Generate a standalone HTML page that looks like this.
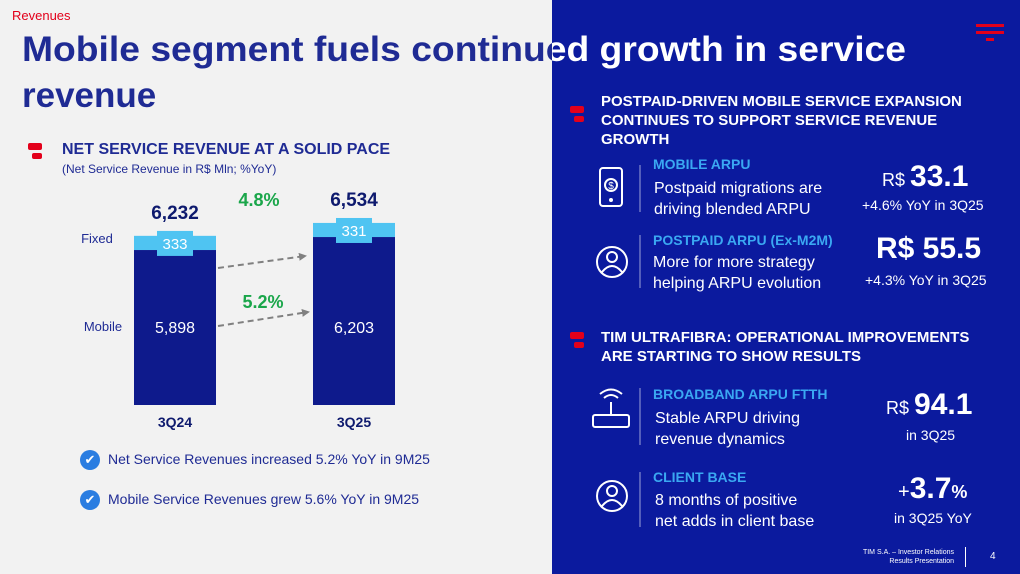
<!DOCTYPE html>
<html><head><meta charset="utf-8">
<style>
*{margin:0;padding:0;box-sizing:border-box}
body{width:1020px;height:574px;overflow:hidden;font-family:"Liberation Sans",sans-serif;background:#f2f2f2;position:relative}
.abs{position:absolute}
.right{left:552px;top:0;width:468px;height:574px;background:#0b1a9e}
.w{color:#fff}
.hd{font-weight:bold;font-size:15px;line-height:19px;color:#fff}
.lbl{font-weight:bold;font-size:14px;color:#3aa8f2}
.txt{font-size:16px;line-height:21px;color:#fff}
.logo{width:14px}
.logo i{display:block;background:#e3001b;border-radius:2px}
</style></head><body>
<div class="abs" style="left:12px;top:8px;font-size:13px;color:#e3001b">Revenues</div>
<div class="abs right"></div>

<svg class="abs" style="left:0;top:0" width="1020" height="120">
<defs><clipPath id="cl"><rect x="0" y="0" width="552" height="120"/></clipPath><clipPath id="cr"><rect x="552" y="0" width="468" height="120"/></clipPath></defs>
<g font-family="Liberation Sans" font-weight="bold" font-size="35">
<text x="22" y="61" textLength="884" lengthAdjust="spacingAndGlyphs" fill="#1f2b94" clip-path="url(#cl)">Mobile segment fuels continued growth in service</text>
<text x="22" y="61" textLength="884" lengthAdjust="spacingAndGlyphs" fill="#fff" clip-path="url(#cr)">Mobile segment fuels continued growth in service</text>
<text x="22" y="107" fill="#1f2b94">revenue</text>
</g>
<g fill="#e3001b">
<rect x="976" y="24" width="28" height="3"/><rect x="976" y="31" width="28" height="3"/><rect x="986" y="38" width="8" height="3"/>
</g>
</svg>

<div class="abs logo" style="left:28px;top:143px"><i style="width:14px;height:7px"></i><i style="width:10px;height:6px;margin:3px 0 0 4px"></i></div>
<div class="abs" style="left:62px;top:141px;font-weight:bold;font-size:16px;color:#1f2b94">NET SERVICE REVENUE AT A SOLID PACE</div>
<div class="abs" style="left:62px;top:162px;font-size:12px;color:#1f2b94">(Net Service Revenue in R$ Mln; %YoY)</div>

<svg class="abs" id="chart" style="left:0;top:180px" width="552" height="260"></svg>

<div class="abs" style="left:80px;top:450px;font-size:14px;color:#1f2b94"><span style="display:inline-block;width:20px;height:20px;border-radius:50%;background:#2a7de1;color:#fff;text-align:center;font-size:13px;line-height:20px;margin-right:8px">✔</span>Net Service Revenues increased 5.2% YoY in 9M25</div>
<div class="abs" style="left:80px;top:490px;font-size:14px;color:#1f2b94"><span style="display:inline-block;width:20px;height:20px;border-radius:50%;background:#2a7de1;color:#fff;text-align:center;font-size:13px;line-height:20px;margin-right:8px">✔</span>Mobile Service Revenues grew 5.6% YoY in 9M25</div>

<div class="abs logo" style="left:570px;top:106px"><i style="width:14px;height:7px"></i><i style="width:10px;height:6px;margin:3px 0 0 4px"></i></div>
<div class="abs hd" style="left:601px;top:92px">POSTPAID-DRIVEN MOBILE SERVICE EXPANSION<br>CONTINUES TO SUPPORT SERVICE REVENUE<br>GROWTH</div>

<svg class="abs" style="left:590px;top:160px" width="60" height="300" stroke="#fff" fill="none" stroke-width="2">
<rect x="10" y="8" width="22" height="38" rx="3"/><circle cx="21" cy="25" r="6"/><text x="21" y="29" font-size="10" fill="#fff" stroke="none" text-anchor="middle" font-family="Liberation Sans">$</text><circle cx="21" cy="40" r="1"/>
<line x1="50" y1="5" x2="50" y2="52" stroke-width="1" opacity=".6"/>
<circle cx="22" cy="102" r="15"/><circle cx="22" cy="97" r="5"/><path d="M12 112 Q22 100 32 112"/>
<line x1="50" y1="75" x2="50" y2="128" stroke-width="1" opacity=".6"/>
<rect x="3" y="255" width="36" height="12" rx="2"/><line x1="21" y1="255" x2="21" y2="242"/><path d="M14 238 Q21 232 28 238 M10 234 Q21 225 32 234"/>
<line x1="50" y1="228" x2="50" y2="285" stroke-width="1" opacity=".6"/>
</svg>
<svg class="abs" style="left:590px;top:470px" width="60" height="60" stroke="#fff" fill="none" stroke-width="2">
<circle cx="22" cy="26" r="15"/><circle cx="22" cy="21" r="5"/><path d="M12 36 Q22 24 32 36"/>
<line x1="50" y1="2" x2="50" y2="57" stroke-width="1" opacity=".6"/>
</svg>

<div class="abs lbl" style="left:653px;top:156px">MOBILE ARPU</div>
<div class="abs txt" style="left:654px;top:178px">Postpaid migrations are<br>driving blended ARPU</div>
<div class="abs w" style="left:882px;top:160px;font-size:18px"><span>R$ </span><b style="font-size:30px">33.1</b></div>
<div class="abs w" style="left:862px;top:197px;font-size:14px">+4.6% YoY in 3Q25</div>

<div class="abs lbl" style="left:653px;top:232px">POSTPAID ARPU (Ex-M2M)</div>
<div class="abs txt" style="left:653px;top:252px">More for more strategy<br>helping ARPU evolution</div>
<div class="abs w" style="left:876px;top:232px;font-weight:bold;font-size:30px">R$ 55.5</div>
<div class="abs w" style="left:865px;top:272px;font-size:14px">+4.3% YoY in 3Q25</div>

<div class="abs logo" style="left:570px;top:332px"><i style="width:14px;height:7px"></i><i style="width:10px;height:6px;margin:3px 0 0 4px"></i></div>
<div class="abs hd" style="left:601px;top:328px">TIM ULTRAFIBRA: OPERATIONAL IMPROVEMENTS<br>ARE STARTING TO SHOW RESULTS</div>

<div class="abs lbl" style="left:653px;top:386px">BROADBAND ARPU FTTH</div>
<div class="abs txt" style="left:655px;top:408px">Stable ARPU driving<br>revenue dynamics</div>
<div class="abs w" style="left:886px;top:388px;font-size:18px"><span>R$ </span><b style="font-size:30px">94.1</b></div>
<div class="abs w" style="left:906px;top:427px;font-size:14px">in 3Q25</div>

<div class="abs lbl" style="left:653px;top:469px">CLIENT BASE</div>
<div class="abs txt" style="left:655px;top:490px">8 months of positive<br>net adds in client base</div>
<div class="abs w" style="left:898px;top:472px;font-size:20px">+<b style="font-size:30px">3.7</b><b style="font-size:18px">%</b></div>
<div class="abs w" style="left:894px;top:510px;font-size:14px">in 3Q25 YoY</div>

<div class="abs w" style="left:840px;top:548px;width:114px;text-align:right;font-size:7px;line-height:9px">TIM S.A. – Investor Relations<br>Results Presentation</div>
<div class="abs" style="left:965px;top:547px;width:1px;height:20px;background:#fff"></div>
<div class="abs w" style="left:990px;top:551px;font-size:10px">4</div>

<script>
const categories = ["3Q24", "3Q25"];
const mobile = [5898, 6203];
const fixed = [333, 331];
const totals = [6232, 6534];
const growth = ["4.8%", "5.2%"];
const NS = "http://www.w3.org/2000/svg";
const svg = document.getElementById("chart");
const base = 2260, k = 0.0426, bottom = 225;
const y = v => bottom - (v - base) * k;
const xs = i => 134 + i * 179;
const bw = 82;
function mk(tag, a, parent) { const e = document.createElementNS(NS, tag); for (const n in a) e.setAttribute(n, a[n]); (parent || svg).appendChild(e); return e; }
function txt(x, yy, s, st) { const t = mk("text", Object.assign({x: x, y: yy, "text-anchor": "middle", "font-family": "Liberation Sans"}, st)); t.textContent = s; return t; }
mk("defs", {}).innerHTML = '<marker id="ah" markerWidth="8" markerHeight="8" refX="6" refY="4" orient="auto" markerUnits="userSpaceOnUse"><path d="M0,0 L8,4 L0,8z" fill="#808080"/></marker>';
categories.forEach((c, i) => {
  const x = xs(i), mt = y(mobile[i]), ft = y(mobile[i] + fixed[i]);
  const m = mk("rect", {x: x, y: mt, width: bw, height: bottom - mt, fill: "#0e1a8c"});
  
  
  const f = mk("rect", {x: x, y: ft, width: bw, height: mt - ft, fill: "#4fc4f2"});
  
  
  const lb = mk("rect", {x: x + 23, y: (ft + mt) / 2 - 12, width: 36, height: 25, fill: "#4fc4f2"});
  
  
  txt(x + bw / 2, (ft + mt) / 2 + 6, fixed[i].toLocaleString("en-US"), {fill: "#fff", "font-size": 15});
  txt(x + bw / 2, 153, mobile[i].toLocaleString("en-US"), {fill: "#fff", "font-size": 16});
  txt(x + bw / 2, ft - 17, totals[i].toLocaleString("en-US"), {fill: "#0e1a6e", "font-size": 19, "font-weight": "bold"});
  txt(x + bw / 2, 247, c, {fill: "#0e1a6e", "font-size": 14, "font-weight": "bold"});
});
txt(97, 63, "Fixed", {fill: "#1f2b94", "font-size": 13});
txt(103, 151, "Mobile", {fill: "#1f2b94", "font-size": 13});
const a1 = mk("line", {x1: 218, y1: 88, x2: 305, y2: 76, stroke: "#808080", "stroke-width": 2, "stroke-dasharray": "6 4", "marker-end": "url(#ah)"});


const a2 = mk("line", {x1: 218, y1: 146, x2: 308, y2: 132, stroke: "#808080", "stroke-width": 2, "stroke-dasharray": "6 4", "marker-end": "url(#ah)"});


const g1 = txt(259, 26, growth[0], {fill: "#1aa64a", "font-size": 18, "font-weight": "bold"});


const g2 = txt(263, 128, growth[1], {fill: "#1aa64a", "font-size": 18, "font-weight": "bold"});


</script>
</body></html>
